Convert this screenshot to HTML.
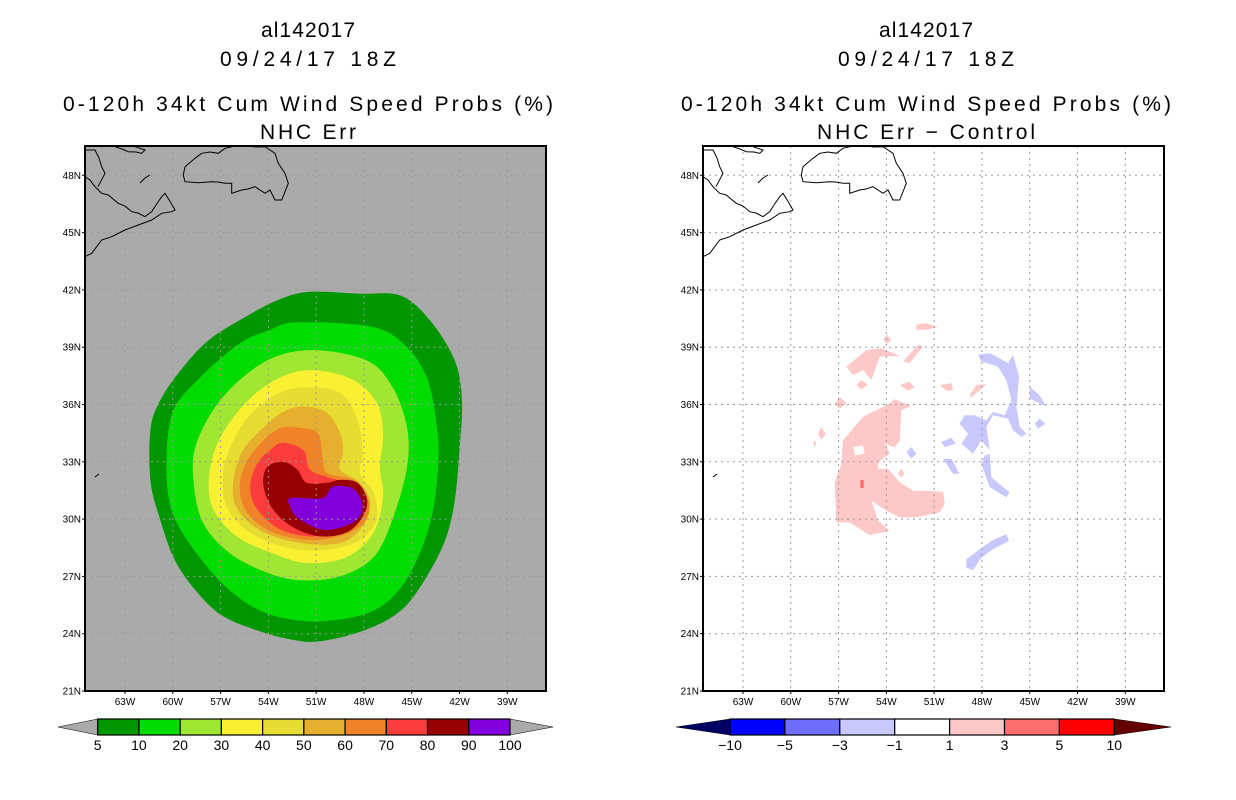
<!DOCTYPE html>
<html><head><meta charset="utf-8">
<style>
html,body{margin:0;padding:0;background:#fff;}
svg{display:block;}
text{font-family:"Liberation Sans",sans-serif;fill:#000;}
.t{font-size:21px;}
.ax{font-size:10px;}
.cb{font-size:14px;}
</style></head>
<body>
<svg id="root" width="1236" height="800" viewBox="0 0 1236 800">
  <g>
    <text class="t" x="308" y="37" text-anchor="middle" textLength="94">al142017</text>
    <text class="t" x="308" y="66" text-anchor="middle" textLength="176">09/24/17 18Z</text>
    <text class="t" x="308" y="111" text-anchor="middle" textLength="490">0-120h 34kt Cum Wind Speed Probs (%)</text>
    <text class="t" x="308" y="139" text-anchor="middle" textLength="96">NHC Err</text>
  </g>
  <g>
    <text class="t" x="926" y="37" text-anchor="middle" textLength="94">al142017</text>
    <text class="t" x="926" y="66" text-anchor="middle" textLength="176">09/24/17 18Z</text>
    <text class="t" x="926" y="111" text-anchor="middle" textLength="490">0-120h 34kt Cum Wind Speed Probs (%)</text>
    <text class="t" x="926" y="139" text-anchor="middle" textLength="218">NHC Err − Control</text>
  </g>
  <g id="left"></g>
  <g id="right"></g>
  <g id="cbL"></g>
  <g id="cbR"></g>
</svg>
<script>
// ---- data ----
const latTicks = [48,45,42,39,36,33,30,27,24,21];
const lonTicks = [63,60,57,54,51,48,45,42,39];
const probLevels = [5,10,20,30,40,50,60,70,80,90,100];
const probColors = ['#009600','#00dc00','#a0e632','#faf032','#e6dc32','#e6af2d','#f08228','#fa3c3c','#960000','#8200dc'];
const diffLevels = [-10,-5,-3,-1,1,3,5,10];
const diffColors = ['#000064','#0000ff','#6e6eff','#c8c8ff','#ffffff','#ffc8c8','#ff6e6e','#ff0000','#640000'];
// contour polygons as [lonW, latN]
const c5 = [[51.4,41.9],[48.25,41.8],[45.7,41.7],[43.85,40.4],[42.3,38.3],[41.85,36.2],[42.0,33.6],[42.3,31.0],[42.9,28.9],[44.2,26.8],[45.7,25.2],[47.9,24.2],[50.75,23.6],[52.6,23.7],[54.8,24.2],[57.0,25.0],[58.6,26.3],[59.9,27.9],[60.8,30.0],[61.4,32.0],[61.4,34.7],[60.8,36.2],[59.5,37.8],[57.7,39.4],[55.2,40.7],[53.3,41.5]];
const c10 = [[52.2,40.3],[47.4,40.05],[45.3,39.0],[44.0,37.3],[43.4,34.7],[43.35,32.7],[43.7,30.3],[44.5,28.2],[45.7,26.4],[47.4,25.2],[49.9,24.7],[52.2,24.7],[54.5,25.2],[56.6,26.4],[58.5,28.2],[60.0,30.3],[60.4,32.7],[60.0,35.6],[58.3,37.4],[55.8,39.2],[53.9,39.9]];
const c20 = [[51.2,38.85],[47.8,38.3],[46.2,36.9],[45.3,34.8],[45.3,32.7],[46.2,30.0],[47.4,28.0],[49.5,27.0],[52.0,26.8],[54.1,27.2],[56.4,28.2],[58.1,29.8],[58.7,32.0],[58.5,34.0],[56.85,36.4],[54.1,38.3]];
const c30 = [[51.2,37.8],[48.7,37.3],[47.2,36.1],[46.8,34.5],[47.0,32.7],[46.8,31.2],[47.4,29.3],[49.1,28.0],[51.6,27.7],[53.7,28.2],[56.0,29.1],[57.5,30.6],[57.7,32.4],[57.0,34.3],[55.3,36.2],[53.3,37.4]];
const c40 = [[51.6,36.9],[49.5,36.6],[48.4,35.2],[48.1,33.5],[48.25,32.4],[47.4,31.4],[47.2,30.0],[48.25,28.9],[50.3,28.4],[52.8,28.5],[55.15,29.3],[56.6,30.6],[56.85,32.4],[56.2,34.1],[55.0,35.6],[53.3,36.6]];
const c50 = [[51.8,35.9],[50.3,35.55],[49.5,34.5],[49.3,33.5],[49.5,32.6],[48.25,31.9],[47.6,30.8],[48.1,29.6],[49.5,28.75],[52.0,28.75],[54.5,29.4],[56.0,30.6],[56.2,32.0],[55.6,33.6],[54.3,34.8],[53.1,35.6]];
const c60 = [[52.2,34.8],[50.9,34.5],[50.6,33.25],[50.3,32.4],[48.7,32.05],[47.8,31.2],[47.8,30.1],[48.9,29.3],[51.2,28.9],[53.7,29.3],[55.3,30.3],[55.8,31.7],[55.3,33.1],[54.1,34.3],[53.1,34.8]];
const c70 = [[53.1,34.0],[51.8,33.6],[51.4,32.6],[50.3,32.2],[49.2,31.9],[48.25,31.2],[48.1,30.3],[49.0,29.6],[50.8,29.1],[53.1,29.4],[54.7,30.5],[55.15,31.7],[54.7,32.9],[53.9,33.6]];
const c80 = [[53.1,33.0],[52.2,32.6],[51.6,31.9],[50.3,31.9],[49.5,32.05],[48.4,31.9],[47.8,31.0],[48.1,30.1],[49.1,29.3],[50.8,29.1],[52.5,29.6],[53.7,30.5],[54.3,31.7],[54.1,32.7]];
const c90 = [[52.6,31.1],[50.6,31.1],[49.95,31.7],[48.7,31.6],[48.1,30.8],[48.4,30.0],[49.7,29.5],[50.9,29.5],[52.2,30.1],[52.6,30.6]];
// difference field areas
const pinkMain = [[53.48,36.28],[52.43,35.91],[53.06,35.7],[53.16,34.12],[53.48,33.77],[54.1,33.95],[53.79,33.42],[54.52,32.98],[54.52,32.63],[53.9,32.63],[53.16,31.93],[52.33,31.49],[50.44,31.44],[50.34,30.79],[50.65,30.35],[52.12,30.09],[53.16,30.09],[54.0,30.44],[54.94,30.96],[54.52,29.91],[53.79,29.39],[55.05,29.16],[56.3,29.82],[57.14,29.82],[57.24,31.93],[56.82,32.89],[56.72,34.12],[55.46,35.35],[54.63,35.7],[53.79,36.05]];
const pinkHole = [[56.09,33.77],[55.46,33.86],[55.36,33.42],[55.98,33.33]];
const pinkUpper = [[56.51,37.98],[55.25,38.86],[54.31,38.95],[53.16,38.54],[54.42,38.51],[54.94,37.28],[55.46,37.81],[56.09,37.54]];
const pinkSmall = [
 [[52.95,38.25],[52.01,39.12],[51.7,39.04],[52.54,38.16]],
 [[52.12,40.18],[51.49,40.26],[50.76,40.05],[51.49,39.91],[52.12,39.91]],
 [[53.16,37.02],[52.54,37.19],[52.22,36.89],[52.64,36.72]],
 [[48.77,36.49],[48.35,37.02],[47.72,37.07],[48.25,36.67],[48.67,36.37]],
 [[50.65,37.02],[49.92,37.11],[49.82,36.75],[50.23,36.72]],
 [[57.24,36.05],[56.93,36.4],[56.51,36.05],[56.93,35.79]],
 [[55.88,37.02],[55.57,37.28],[55.15,37.02],[55.57,36.79]],
 [[58.29,34.47],[58.08,34.82],[57.81,34.47],[58.08,34.16]],
 [[53.27,32.37],[53.06,32.63],[52.85,32.37],[53.06,32.19]],
 [[54.21,39.39],[53.96,39.65],[53.69,39.39],[53.96,39.18]],
 [[58.6,34.04],[58.5,34.12],[58.39,33.95],[58.5,33.77]]
];
const redSpot = [[55.63,32.05],[55.42,32.05],[55.42,31.63],[55.63,31.63]];
const blueMain = [[48.25,38.6],[47.51,38.68],[46.89,38.42],[46.36,38.16],[46.05,38.6],[45.67,37.46],[45.84,35.88],[45.63,34.82],[45.21,34.47],[45.53,34.3],[46.05,34.65],[46.36,35.26],[47.31,35.44],[47.72,34.82],[47.51,33.6],[48.04,34.12],[48.56,33.42],[49.29,33.95],[48.87,34.47],[49.4,35.0],[49.08,35.44],[48.46,35.44],[47.72,35.18],[47.31,35.61],[46.57,35.44],[46.15,36.23],[46.47,37.28],[46.99,37.98],[48.04,38.25]];
const blueSmall = [
 [[47.83,33.33],[47.51,33.42],[47.41,32.19],[46.26,31.4],[46.47,31.14],[47.51,31.67],[48.04,32.89]],
 [[48.98,27.89],[48.14,28.42],[47.41,28.86],[46.47,29.21],[46.3,28.86],[47.31,28.42],[48.04,27.98],[48.56,27.32],[48.98,27.46]],
 [[45.0,36.93],[44.38,36.49],[43.96,35.88],[45.0,36.32]],
 [[44.69,35.0],[44.38,35.26],[44.02,35.0],[44.48,34.74]],
 [[50.44,33.16],[49.92,33.16],[49.4,32.37],[49.82,32.37]],
 [[50.55,34.04],[49.92,34.26],[49.65,33.95],[50.34,33.77]],
 [[52.74,33.51],[52.43,33.77],[52.12,33.42],[52.43,33.16]]
];

// ---- projection ----
const X0 = 85, X1 = 546, Y0 = 146, Y1 = 691;
function xOf(lonW){ return 125 + (63 - lonW) * 15.93; }
function yOf(lat){ return 691 - (lat - 21) * 19.1; }
const NS = 'http://www.w3.org/2000/svg';
function mk(tag, attrs, parent){ const e = document.createElementNS(NS, tag); for (const k in attrs) e.setAttribute(k, attrs[k]); parent.appendChild(e); return e; }
function pts(poly, dx){ return poly.map(p => (xOf(p[0]) + dx).toFixed(1) + ',' + yOf(p[1]).toFixed(1)).join(' '); }
function smooth(poly, dx){
  const P = poly.map(p => [xOf(p[0]) + dx, yOf(p[1])]);
  const n = P.length;
  let d = 'M' + P[0][0].toFixed(1) + ',' + P[0][1].toFixed(1);
  for (let i = 0; i < n; i++){
    const p0 = P[(i - 1 + n) % n], p1 = P[i], p2 = P[(i + 1) % n], p3 = P[(i + 2) % n];
    const c1 = [p1[0] + (p2[0] - p0[0]) / 6, p1[1] + (p2[1] - p0[1]) / 6];
    const c2 = [p2[0] - (p3[0] - p1[0]) / 6, p2[1] - (p3[1] - p1[1]) / 6];
    d += 'C' + c1[0].toFixed(1) + ',' + c1[1].toFixed(1) + ' ' + c2[0].toFixed(1) + ',' + c2[1].toFixed(1) + ' ' + p2[0].toFixed(1) + ',' + p2[1].toFixed(1);
  }
  return d + 'Z';
}

const coastMain = "85,256.7 91.7,253.3 101.7,240 111.7,236.7 125,230 138.3,225 151.7,220 161.7,213.3 171.7,211.7 175,210 171,203 165,193.3 161.7,196.7 156,205 151.7,211.7 145,216.7 138,213 131.7,211.7 125,206 118.3,203.3 113,199 108.3,195 101.7,193.3 98.3,190 95,186.7 90,180 85,176.7";
const coast2 = "85,150 95,150 99,158 101.7,166.7 105,173.3 98,186.7";
const coast3 = "115,146.7 122,149 128.3,151.7 136,152 141.7,153.3 145,150 135,146.7";
const newf = "185,166.7 195,158.3 201.7,153.3 210,152 218.3,153.3 225,148.3 235,146 245,145 255,147 265,146.7 275,153.3 278.3,163.3 285,173.3 288.3,183.3 281.7,200 275,200 270,190 265,193.3 255,186.7 248,189 241.7,190 231.7,193.3 231.7,183.3 225,183.3 218,182 211.7,181.7 198.3,182.7 185,181.7 183.3,175 185,166.7";

function panel(g, dx, bg, drawFill){
  const clipId = 'clip' + dx;
  const defs = mk('defs', {}, g);
  const cp = mk('clipPath', {id: clipId}, defs);
  mk('rect', {x: X0 + dx, y: Y0, width: X1 - X0, height: Y1 - Y0}, cp);
  const bgR = mk('rect', {x: X0 + dx, y: Y0, width: X1 - X0, height: Y1 - Y0, fill: bg}, g);
  
  
  const inner = mk('g', {'clip-path': 'url(#' + clipId + ')'}, g);
  drawFill(inner);
  const grid = mk('g', {stroke: '#9a9a9a', 'stroke-width': 1, 'stroke-dasharray': '2,4'}, inner);
  
  
  lonTicks.forEach(l => { mk('line', {x1: xOf(l) + dx, x2: xOf(l) + dx, y1: Y0, y2: Y1}, grid); });
  latTicks.forEach(l => { mk('line', {x1: X0 + dx, x2: X1 + dx, y1: yOf(l), y2: yOf(l)}, grid); });
  const coast = mk('g', {fill: 'none', stroke: '#000', 'stroke-width': 1, transform: 'translate(' + dx + ',0)'}, inner);
  
  
  [coastMain, coast2, coast3, newf, "140,183 145,178 150,175", "95,477 99,474"].forEach(p => mk('polyline', {points: p}, coast));
  const fr = mk('rect', {x: X0 + dx, y: Y0, width: X1 - X0, height: Y1 - Y0, fill: 'none', stroke: '#000', 'stroke-width': 2}, g);
  
  
  latTicks.forEach(l => {
    mk('line', {x1: X0 - 3 + dx, x2: X0 + dx, y1: yOf(l), y2: yOf(l), stroke: '#000'}, g);
    const t = mk('text', {x: X0 - 4 + dx, y: yOf(l) + 3.5, 'text-anchor': 'end', class: 'ax'}, g);
    t.textContent = l + 'N';
    
    
  });
  lonTicks.forEach(l => {
    mk('line', {x1: xOf(l) + dx, x2: xOf(l) + dx, y1: Y1, y2: Y1 + 3, stroke: '#000'}, g);
    const t = mk('text', {x: xOf(l) + dx, y: Y1 + 14, 'text-anchor': 'middle', class: 'ax'}, g);
    t.textContent = l + 'W';
    
    
  });
}

panel(document.getElementById('left'), 0, '#aaaaaa', inner => {
  const polys = [c5, c10, c20, c30, c40, c50, c60, c70, c80, c90];
  polys.forEach((p, i) => {
    const e = mk('path', {d: smooth(p, 0), fill: probColors[i]}, inner);
    
    
  });
});

const DX = 618;
panel(document.getElementById('right'), DX, '#ffffff', inner => {
  const add = (p, col, name) => {
    const e = mk('polygon', {points: pts(p, DX), fill: col}, inner);
    
    
  };
  add(pinkMain, diffColors[5], 'positive-diff-area');
  add(pinkHole, '#ffffff', 'diff-hole');
  add(pinkUpper, diffColors[5], 'positive-diff-area');
  pinkSmall.forEach(p => add(p, diffColors[5], 'positive-diff-patch'));
  add(redSpot, diffColors[6], 'strong-positive-diff');
  add(blueMain, diffColors[3], 'negative-diff-area');
  blueSmall.forEach(p => add(p, diffColors[3], 'negative-diff-patch'));
});

function colorbar(g, x0, x1, tipL, tipR, colors, labels, endL, endR){
  const y0 = 719, y1 = 735, ym = 727;
  const n = colors.length, w = (x1 - x0) / n;
  const l = mk('polygon', {points: tipL + ',' + ym + ' ' + x0 + ',' + y0 + ' ' + x0 + ',' + y1, fill: endL, stroke: '#000', 'stroke-width': 0.5}, g);
  
  
  const r = mk('polygon', {points: tipR + ',' + ym + ' ' + x1 + ',' + y0 + ' ' + x1 + ',' + y1, fill: endR, stroke: '#000', 'stroke-width': 0.5}, g);
  
  
  colors.forEach((c, i) => {
    const b = mk('rect', {x: x0 + i * w, y: y0, width: w, height: y1 - y0, fill: c, stroke: '#000', 'stroke-width': 1.2}, g);
    
    
  });
  labels.forEach((v, i) => {
    const t = mk('text', {x: x0 + i * w, y: 750, 'text-anchor': 'middle', class: 'cb'}, g);
    t.textContent = v < 0 ? '−' + (-v) : String(v);
    
    
  });
}
colorbar(document.getElementById('cbL'), 97.7, 510, 58, 553, probColors, probLevels, '#aaaaaa', '#aaaaaa');
colorbar(document.getElementById('cbR'), 730, 1114.3, 676, 1171, diffColors.slice(1, 8), diffLevels, diffColors[0], diffColors[8]);
</script>
</body></html>
